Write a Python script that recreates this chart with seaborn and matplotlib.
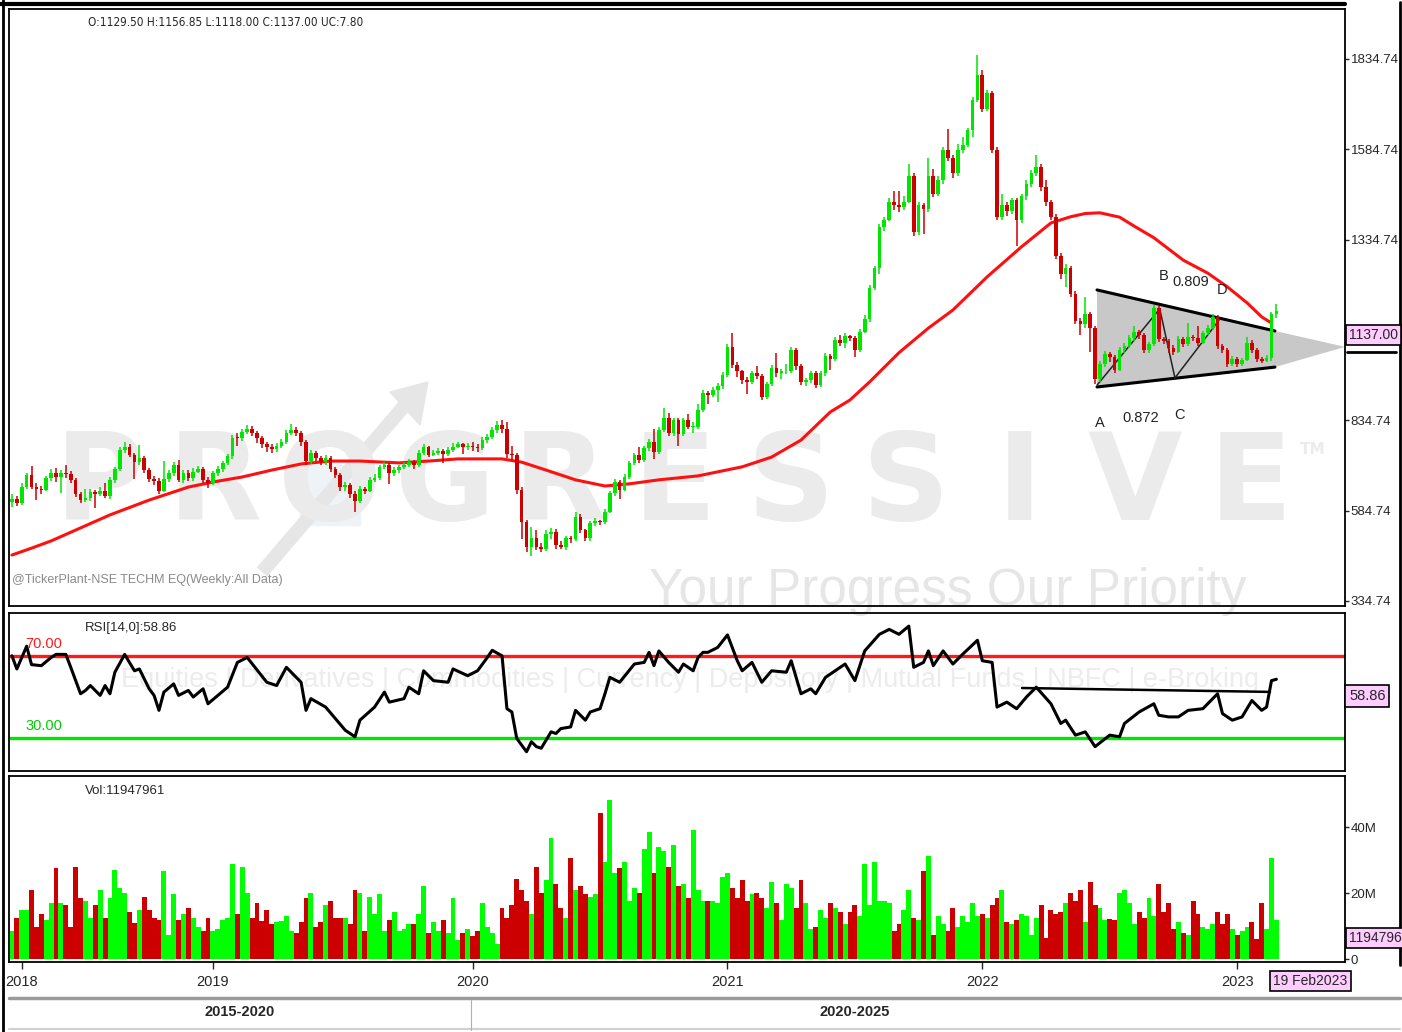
"""
TECHM weekly candlestick chart with 52-week average, RSI(14) and volume,
redrawn from a TickerPlant screenshot.
"""

import numpy as np
import pandas as pd
import matplotlib
matplotlib.use("Agg")
import matplotlib.pyplot as plt
from matplotlib.patches import Polygon, Rectangle
from matplotlib.lines import Line2D
import seaborn as sns

# --- data (weekly bars, 25 Mar 2018 .. 19 Feb 2023) ---
closes = [
    618, 607, 651, 683, 651, 645, 643, 675, 690, 679,
    690, 685, 670, 630, 614, 620, 636, 630, 640, 625,
    670, 700, 752, 762, 740, 720, 730, 697, 672, 668,
    640, 672, 690, 710, 670, 690, 675, 693, 700, 670,
    660, 688, 700, 716, 735, 787, 785, 803, 812, 800,
    785, 770, 760, 755, 765, 775, 800, 808, 800, 775,
    722, 743, 730, 720, 730, 700, 683, 650, 655, 630,
    612, 645, 640, 670, 675, 706, 712, 688, 697, 705,
    712, 720, 710, 745, 760, 740, 745, 750, 742, 752,
    762, 768, 760, 765, 760, 758, 780, 789, 808, 822,
    812, 742, 740, 643, 554, 485, 508, 485, 480, 520,
    527, 490, 485, 508, 505, 568, 530, 508, 550, 555,
    552, 582, 633, 665, 642, 678, 716, 739, 725, 757,
    775, 748, 808, 840, 799, 836, 797, 836, 817, 817,
    863, 909, 905, 920, 930, 960, 1038, 988, 970, 945,
    940, 965, 958, 900, 935, 980, 965, 970, 972, 1030,
    985, 940, 945, 965, 932, 965, 1012, 1005, 1058, 1050,
    1068, 1062, 1030, 1080, 1115, 1200, 1255, 1370, 1390, 1440,
    1430, 1425, 1440, 1510, 1355, 1430, 1420, 1510, 1460, 1500,
    1583, 1560, 1520, 1583, 1597, 1637, 1722, 1790, 1695, 1740,
    1583, 1398, 1430, 1415, 1444, 1390, 1455, 1490, 1520, 1535,
    1480, 1438, 1398, 1290, 1240, 1255, 1185, 1110, 1100, 1130,
    1090, 950, 990, 1018, 1010, 975, 1030, 1040, 1062, 1078,
    1070, 1030, 1045, 1145, 1060, 1055, 1035, 1025, 1060, 1045,
    1065, 1062, 1050, 1075, 1090, 1120, 1040, 1030, 990, 1005,
    990, 1002, 1050, 1030, 1005, 1000, 1008, 1129.5, 1137,
]
highs = [
    632, 625, 660, 690, 709, 660, 652, 682, 700, 702,
    698, 712, 695, 675, 636, 646, 645, 642, 650, 660,
    678, 706, 760, 775, 768, 745, 766, 735, 702, 680,
    675, 722, 698, 720, 725, 698, 698, 702, 708, 706,
    678, 694, 708, 722, 742, 795, 800, 812, 822, 818,
    805, 790, 775, 768, 772, 782, 808, 825, 815, 805,
    780, 752, 750, 736, 738, 735, 706, 688, 665, 660,
    640, 652, 650, 678, 685, 712, 720, 718, 705, 712,
    720, 728, 726, 752, 768, 765, 752, 758, 756, 760,
    772, 775, 772, 772, 775, 768, 788, 798, 815, 832,
    836, 830, 765, 745, 650, 560, 540, 532, 495, 530,
    538, 535, 500, 515, 515, 582, 575, 535, 556, 565,
    560, 590, 640, 672, 670, 685, 722, 745, 760, 763,
    782, 812, 815, 868, 855, 842, 840, 842, 852, 830,
    880, 918, 915, 928, 938, 968, 1045, 1075, 995, 975,
    955, 972, 985, 962, 942, 988, 1020, 978, 990, 1038,
    1035, 990, 952, 972, 970, 972, 1020, 1018, 1065, 1070,
    1076, 1072, 1068, 1088, 1125, 1208, 1262, 1378, 1398, 1450,
    1470, 1470, 1455, 1545, 1518, 1440, 1435, 1560, 1530, 1510,
    1592, 1640, 1570, 1600, 1620, 1645, 1730, 1845, 1805, 1750,
    1745, 1590, 1460, 1440, 1450, 1450, 1462, 1500, 1528, 1568,
    1545, 1500, 1445, 1405, 1298, 1268, 1262, 1192, 1118, 1175,
    1135, 1095, 998, 1026, 1024, 1015, 1038, 1048, 1070, 1095,
    1085, 1075, 1052, 1155, 1150, 1066, 1060, 1042, 1068, 1065,
    1105, 1072, 1095, 1082, 1098, 1128, 1125, 1045, 1035, 1012,
    1010, 1008, 1065, 1056, 1035, 1010, 1015, 1135, 1156.85,
]
lows = [
    596, 598, 600, 645, 645, 615, 630, 638, 668, 665,
    633, 675, 660, 622, 606, 608, 612, 592, 625, 620,
    618, 662, 695, 745, 732, 672, 712, 690, 664, 655,
    630, 635, 665, 682, 663, 662, 668, 668, 688, 662,
    648, 655, 682, 692, 710, 728, 765, 778, 796, 792,
    772, 758, 748, 745, 748, 758, 770, 795, 790, 765,
    712, 715, 722, 710, 712, 692, 675, 640, 640, 620,
    582, 605, 630, 635, 665, 670, 700, 658, 680, 690,
    700, 706, 700, 705, 740, 732, 735, 740, 718, 736,
    746, 758, 742, 752, 750, 748, 752, 772, 782, 800,
    800, 730, 725, 630, 505, 470, 460, 476, 470, 472,
    505, 480, 478, 475, 496, 500, 522, 500, 502, 542,
    545, 548, 578, 625, 618, 638, 672, 710, 718, 720,
    750, 728, 742, 802, 792, 790, 765, 792, 810, 800,
    810, 858, 880, 898, 885, 922, 955, 980, 955, 935,
    908, 935, 950, 890, 895, 930, 955, 948, 962, 965,
    975, 932, 930, 938, 925, 928, 958, 975, 1000, 1040,
    1035, 1055, 1010, 1025, 1075, 1108, 1195, 1240, 1360, 1385,
    1418, 1410, 1418, 1435, 1345, 1348, 1350, 1410, 1452, 1455,
    1490, 1552, 1505, 1510, 1575, 1590, 1620, 1715, 1688, 1690,
    1575, 1390, 1390, 1400, 1405, 1318, 1380, 1445, 1480, 1512,
    1470, 1428, 1388, 1280, 1225, 1205, 1175, 1100, 1070, 1090,
    1025, 935, 942, 982, 995, 965, 970, 1022, 1035, 1055,
    1060, 1020, 1022, 1040, 1052, 1045, 1020, 1015, 1020, 1038,
    1040, 1055, 1040, 1045, 1070, 1085, 1032, 1022, 982, 985,
    982, 985, 998, 1022, 995, 992, 995, 1000, 1118,
]
# weekly volume, millions of shares
volumes_m = [
    8.5, 12.3, 14.8, 14.8, 20.9, 9.8, 13.8, 11.8, 16.9, 27.5,
    16.9, 16.4, 9.8, 28.0, 18.4, 17.7, 12.3, 16.4, 20.9, 12.3,
    18.4, 27.0, 21.6, 20.1, 14.3, 11.0, 15.0, 18.9, 15.0, 12.3,
    11.8, 26.8, 7.3, 19.6, 11.8, 13.6, 15.6, 12.3, 9.8, 8.5,
    12.3, 8.5, 9.1, 11.8, 12.5, 28.7, 13.6, 28.0, 20.1, 12.3,
    16.9, 11.6, 15.0, 10.5, 11.1, 11.6, 13.0, 8.5, 7.8, 11.1,
    18.4, 20.1, 9.8, 11.1, 16.4, 17.7, 12.5, 12.5, 12.5, 10.5,
    20.9, 20.1, 8.5, 18.9, 13.6, 19.6, 8.5, 11.8, 14.3, 8.5,
    9.1, 10.5, 10.5, 13.6, 22.2, 7.8, 11.1, 8.5, 11.8, 7.8,
    18.4, 5.8, 7.8, 9.1, 7.1, 8.5, 16.9, 9.8, 7.8, 4.6,
    15.6, 12.3, 16.4, 24.2, 20.9, 17.7, 13.6, 28.0, 20.1, 24.1,
    36.6, 22.7, 15.6, 12.5, 30.7, 20.9, 22.1, 19.6, 18.9, 19.6,
    44.3, 29.5, 48.2, 26.0, 27.5, 29.5, 17.7, 21.6, 20.1, 33.3,
    38.6, 26.0, 34.1, 32.7, 28.0, 34.5, 22.2, 22.9, 18.4, 39.1,
    20.9, 17.6, 17.6, 17.6, 16.9, 24.8, 26.0, 21.6, 18.4, 24.1,
    17.6, 19.6, 20.1, 18.4, 15.6, 23.4, 16.9, 11.8, 22.7, 21.6,
    15.6, 24.1, 16.9, 9.1, 9.8, 15.0, 12.3, 16.9, 15.6, 14.3,
    10.5, 14.3, 16.4, 13.0, 28.7, 16.4, 29.3, 17.6, 17.6, 16.9,
    8.5, 10.5, 15.0, 20.9, 12.3, 11.8, 26.8, 31.2, 7.3, 13.0,
    10.5, 8.5, 15.6, 9.8, 13.0, 11.1, 16.9, 13.0, 13.6, 12.5,
    16.4, 18.4, 20.9, 11.1, 10.5, 11.8, 13.6, 13.0, 7.3, 12.3,
    16.4, 6.5, 15.0, 13.6, 14.3, 16.9, 20.1, 17.7, 20.9, 11.1,
    23.4, 16.4, 15.6, 11.8, 12.0, 11.8, 20.1, 20.9, 16.9, 10.5,
    14.3, 12.3, 18.4, 13.0, 22.7, 14.3, 16.9, 9.1, 11.1, 7.8,
    7.3, 17.6, 13.6, 9.8, 9.1, 10.5, 14.3, 10.5, 13.6, 9.1,
    7.3, 8.5, 9.8, 11.1, 6.0, 16.9, 9.1, 30.7, 11.95,
]
first_open = 610

# 52-week moving average
ma_weeks = [0, 4, 8, 14, 20, 28, 36, 41, 47, 53, 59, 65, 71, 79, 85, 91, 100,
            104, 109, 115, 121, 126, 132, 140, 149, 155, 161, 167, 171, 175,
            181, 187, 192, 199, 206, 212, 216, 219, 222, 226, 229, 233, 239,
            244, 248, 252, 255, 257]
ma_values = [462, 481, 501, 537, 573, 614, 650, 664, 678, 697, 714, 722, 722,
             717, 722, 728, 728, 719, 697, 670, 653, 659, 670, 681, 706, 733,
             780, 858, 891, 941, 1022, 1090, 1140, 1232, 1315, 1381, 1398,
             1407, 1409, 1397, 1372, 1340, 1278, 1242, 1204, 1160, 1121, 1104]

# RSI(14)
rsi_weeks = [0, 1, 3, 4, 6, 8, 9, 11, 12, 14, 15, 16, 18, 19, 20, 21, 23, 25,
             26, 28, 29, 30, 31, 33, 34, 36, 37, 39, 40, 44, 46, 48, 52, 54,
             56, 59, 60, 61, 64, 68, 70, 71, 74, 76, 77, 80, 81, 83, 84, 86,
             89, 90, 93, 95, 97, 98, 100, 101, 102, 103, 105, 106, 107, 108,
             110, 111, 112, 114, 115, 117, 118, 120, 121, 122, 124, 127, 129,
             130, 131, 132, 134, 136, 137, 139, 140, 141, 142, 144, 146, 148,
             149, 151, 153, 155, 158, 159, 161, 163, 164, 166, 169, 170, 172,
             174, 177, 179, 181, 183, 184, 186, 187, 188, 190, 192, 194, 197,
             198, 200, 201, 203, 205, 207, 209, 212, 214, 215, 217, 219, 221,
             224, 226, 227, 230, 233, 234, 236, 238, 240, 243, 246, 247, 249,
             251, 253, 255, 256, 257, 258]
rsi_values = [70.3, 63.9, 75, 66, 65.5, 69.5, 71, 71, 64.7, 51.8, 53.4, 55.8,
              51, 55.8, 51.8, 62.3, 71, 63, 63.9, 54.2, 51, 43.7, 52.6, 56.6,
              51, 53.4, 50.2, 54.2, 46.9, 55, 67.1, 69.5, 57.4, 55.8, 64.7,
              57.4, 43.7, 49.4, 45.3, 34, 30.8, 38.9, 45.3, 52.6, 47.7, 49.4,
              55, 51.8, 63, 58.2, 57.4, 63.9, 60.6, 63, 69.5, 73, 70.3, 44.5,
              42.9, 30, 23.5, 28.4, 26, 25.2, 33.2, 32.4, 34.8, 35.6, 43.7,
              38.9, 42.9, 44.5, 51.8, 59.8, 57.4, 66.3, 67.1, 72, 65.5, 72.7,
              67.1, 62.3, 66.3, 63, 69.5, 72, 72, 74.4, 80.5, 67.9, 63, 67.1,
              57.4, 63, 62.3, 67.9, 51.8, 54.2, 51.8, 59.8, 64.7, 66.3, 58.2,
              72.7, 80.8, 83.2, 80.8, 84.8, 64.7, 67.1, 72.7, 65.5, 72.7, 66.3,
              71.1, 77.9, 67.9, 67.1, 45.3, 47.7, 44.5, 50.2, 55, 46.9, 37.3,
              38.9, 31.6, 33.2, 26, 31.6, 30.8, 37.3, 42.9, 46.9, 41.3, 40.5,
              40.5, 43.7, 44.5, 51.8, 42.1, 38.9, 40.5, 48.5, 43.7, 45.3, 58.2,
              58.86]

year_ticks = [2, 41, 94, 146, 198, 250]
year_labels = ["2018", "2019", "2020", "2021", "2022", "2023"]
price_ticks = [334.74, 584.74, 834.74, 1334.74, 1584.74, 1834.74]

assert len(closes) == len(highs) == len(lows) == len(volumes_m) == 259
assert len(ma_weeks) == len(ma_values) and len(rsi_weeks) == len(rsi_values)

# --- frame ---
sns.set_style("white")
plt.rcParams["font.family"] = ["Liberation Sans", "DejaVu Sans"]

W, H = 1402, 1032
fig = plt.figure(figsize=(W / 100, H / 100), dpi=100)


def box(l, t, r, b):
    return [l / W, 1 - b / H, (r - l) / W, (b - t) / H]


def fxy(x, y):
    return x / W, 1 - y / H


ax_p = fig.add_axes(box(9, 9, 1345, 606))
ax_r = fig.add_axes(box(9, 613, 1345, 771))
ax_v = fig.add_axes(box(9, 776, 1345, 962))
for ax in (ax_p, ax_r, ax_v):
    ax.set_facecolor("none")
    ax.set_xlim(-0.6, 272)
    for s in ax.spines.values():
        s.set_color("black")
        s.set_linewidth(1.3)

GREEN, RED = "#00e600", "#cc0000"
df = pd.DataFrame({"week": np.arange(len(closes)), "close": closes,
                   "high": highs, "low": lows, "vol": volumes_m})
# weekly candles open where the previous week closed
df["open"] = [first_open] + closes[:-1]
df["dir"] = np.where(df["close"] >= df["open"], "up", "down")
colors = df["dir"].map({"up": GREEN, "down": RED})

# --- watermark (behind everything) ---
wm = "#ebebeb"
for k, ch in enumerate("PROGRESSIVE"):
    fig.text(*fxy(100 + 115 * k, 486), ch, ha="center", va="center",
             fontsize=88, fontweight="bold", family="DejaVu Sans", color=wm, zorder=-2)
fig.text(*fxy(1300, 449), "TM", fontsize=11, fontweight="bold", family="DejaVu Sans",
         color=wm, zorder=-2, va="center")
fig.add_artist(Rectangle(fxy(300, 525), 60 / W, 60 / H, transform=fig.transFigure,
                         color="#eef3f7", zorder=-3))
fig.add_artist(Line2D([262 / W, 405 / W], [1 - 572 / H, 1 - 405 / H],
                      transform=fig.transFigure, color="#e6e6e6", lw=10, zorder=-2,
                      solid_capstyle="butt"))
fig.add_artist(Polygon([fxy(390, 392), fxy(428, 382), fxy(420, 425)], closed=True,
                       transform=fig.transFigure, color="#e6e6e6", zorder=-2))
fig.text(*fxy(948, 592), "Your Progress Our Priority", ha="center", va="center",
         fontsize=37, color="#e6e6e6", zorder=-2)
fig.text(*fxy(690, 680), "Equities | Derivatives | Commodities | Currency | Depository | "
         "Mutual Funds | NBFC | e-Broking", ha="center", va="center", fontsize=19.5,
         color="#ececec", zorder=-2)

# --- price panel ---
ax_p.set_ylim(320.9, 1973)
tri = [(221.4, 1195.6), (257.7, 1082), (272, 1038), (257.7, 982), (221.4, 927)]
ax_p.add_patch(Polygon(tri, closed=True, fc="#c8c8c8", ec="none", zorder=1))
ax_p.plot([221.4, 257.7], [1195.6, 1082], color="black", lw=2.2, zorder=2)
ax_p.plot([221.4, 257.7], [927, 982], color="black", lw=2.2, zorder=2)
ax_p.plot([221.4, 234.2, 237.3, 246.3], [932, 1143, 952, 1112], color="#222222",
          lw=1.1, zorder=2)

sns.lineplot(x=ma_weeks, y=ma_values, color="#ff1010", lw=2.2, ax=ax_p, zorder=2.5)

ax_p.vlines(df["week"], df["low"], df["high"], colors=colors, lw=1.1, zorder=3)
body_lo = df[["open", "close"]].min(axis=1)
body_h = (df["close"] - df["open"]).abs().clip(lower=2.5)
ax_p.bar(df["week"], body_h, bottom=body_lo, width=0.75, color=colors, lw=0, zorder=4)

for x, y, s in [(222, 827, "A"), (230.4, 841, "0.872"), (238.3, 850, "C"),
                (234.9, 1234, "B"), (240.6, 1218, "0.809"), (246.9, 1196, "D")]:
    ax_p.text(x, y, s, ha="center", va="center", fontsize=10.5, color="#222222")

ax_p.yaxis.tick_right()
ax_p.set_yticks(price_ticks, [f"{v:.2f}" for v in price_ticks])
ax_p.tick_params(axis="y", length=3, width=1, labelsize=9.5, pad=1, right=True, left=False)
ax_p.set_xticks([])
ax_p.set_xlabel("")
ax_p.set_ylabel("")

fig.text(*fxy(88, 22), "O:1129.50 H:1156.85 L:1118.00 C:1137.00 UC:7.80",
         va="center", fontsize=8.5, family="DejaVu Sans", fontstretch="condensed")
fig.text(*fxy(12, 580), "@TickerPlant-NSE TECHM EQ(Weekly:All Data)", va="center",
         fontsize=9, color="#8a8a8a")
pink = dict(boxstyle="square,pad=0.25", fc="#ffccff", ec="black", lw=1.2)
fig.text(*fxy(1349, 335), "1137.00", va="center", fontsize=10, bbox=pink)
fig.add_artist(Line2D([1347 / W, 1396 / W], [1 - 352 / H] * 2, transform=fig.transFigure,
                      color="black", lw=2))

# --- RSI panel ---
ax_r.set_ylim(14.1, 91.2)
ax_r.axhline(70, color="#ff1a1a", lw=2.4, zorder=1)
ax_r.axhline(30, color="#00e600", lw=2.4, zorder=1)
ax_r.plot([206.1, 256.7], [54.6, 52.7], color="black", lw=1.8, zorder=2)
sns.lineplot(x=rsi_weeks, y=rsi_values, color="black", lw=2.2, ax=ax_r, zorder=3)
ax_r.set_xticks([])
ax_r.set_yticks([])
ax_r.set_xlabel("")
ax_r.set_ylabel("")
fig.text(*fxy(85, 628), "RSI[14,0]:58.86", va="center", fontsize=9.5)
fig.text(*fxy(25, 644), "70.00", va="center", fontsize=10.5, color="#ff1a1a")
fig.text(*fxy(25, 726), "30.00", va="center", fontsize=10.5, color="#00cc00")
fig.text(*fxy(1349, 696), "58.86", va="center", fontsize=10.5, bbox=pink)

# --- volume panel ---
sns.barplot(data=df, x="week", y="vol", hue="dir", palette={"up": "#00ff00", "down": RED},
            native_scale=True, width=1.0, dodge=False, saturation=1, linewidth=0,
            legend=False, ax=ax_v)
ax_v.set_xlim(-0.6, 272)
ax_v.set_ylim(-0.9, 55.5)
ax_v.yaxis.tick_right()
ax_v.set_yticks([0, 20, 40], ["0", "20M", "40M"])
ax_v.tick_params(axis="y", length=3, width=1, labelsize=9.5, pad=1, right=True, left=False)
ax_v.set_xticks(year_ticks, year_labels)
ax_v.tick_params(axis="x", length=5, width=1, direction="out", labelsize=10.5, pad=4,
                 bottom=True)
ax_v.set_xlabel("")
ax_v.set_ylabel("")
fig.text(*fxy(85, 791), "Vol:11947961", va="center", fontsize=9.5)
fig.text(*fxy(1349, 938), "1194796", va="center", fontsize=10, bbox=pink)
fig.text(*fxy(1273, 981), "19 Feb2023", va="center", fontsize=10, bbox=pink)

# --- bottom period strip and outer frame ---
fig.add_artist(Line2D([9 / W, 1400 / W], [1 - 998 / H] * 2, transform=fig.transFigure,
                      color="#9a9a9a", lw=2.5))
fig.add_artist(Line2D([9 / W, 1400 / W], [1 - 1029 / H] * 2, transform=fig.transFigure,
                      color="#d0d0d0", lw=1.5))
fig.add_artist(Line2D([471 / W] * 2, [1 - 1000 / H, 1 - 1030 / H],
                      transform=fig.transFigure, color="#b0b0b0", lw=0.8))
fig.text(*fxy(240, 1012), "2015-2020", ha="center", va="center", fontsize=10.5,
         fontweight="bold")
fig.text(*fxy(855, 1012), "2020-2025", ha="center", va="center", fontsize=10.5,
         fontweight="bold")
fig.add_artist(Line2D([3 / W] * 2, [0, 1], transform=fig.transFigure, color="black", lw=2))
fig.add_artist(Line2D([0, 1345 / W], [1 - 4 / H] * 2, transform=fig.transFigure,
                      color="black", lw=3))
fig.add_artist(Line2D([1400 / W] * 2, [1 - 2 / H, 1 - 965 / H], transform=fig.transFigure,
                      color="black", lw=2))

fig.savefig("out.png", dpi=100, facecolor="white")
